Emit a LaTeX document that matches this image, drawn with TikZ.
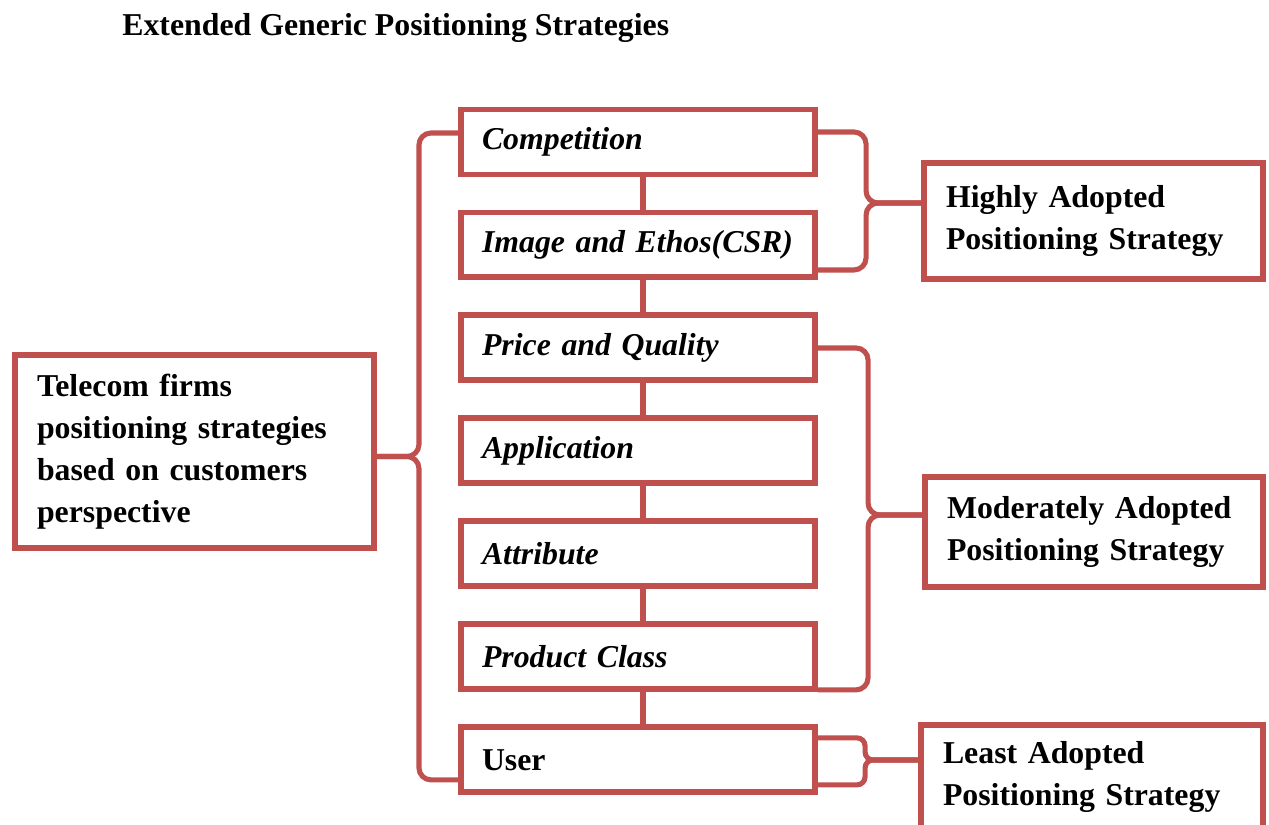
\documentclass[tikz,border=0pt]{standalone}
\usepackage{fontspec}
\setmainfont{Liberation Serif}
\usepackage{tikz}
\usetikzlibrary{calc}
\definecolor{accent}{HTML}{C0504D}
\newcommand{\boxfont}{\fontsize{18.1}{24}\selectfont\bfseries}
\tikzstyle{item} = [rectangle, minimum width=7.08cm, minimum height=1.3cm, text width=6.24cm, inner xsep=0.42cm, align=left, draw=accent, fill=white, line width=3.4pt, font=\boxfont\itshape]
\tikzstyle{sidebox} = [rectangle, inner xsep=0.44cm, align=left, draw=accent, fill=white, line width=3.4pt, font=\boxfont]
\tikzstyle{link} = [accent, line width=2.9pt]
\tikzstyle{brace} = [accent, line width=2.9pt, rounded corners=0.24cm]

\begin{document}
\begin{tikzpicture}[x=0.02cm, y=-0.02cm, node distance=2.06cm]
    \useasboundingbox (0,0) rectangle (1269,825);
    \clip (0,0) rectangle (1269,825);

    \node (title) [anchor=west, inner sep=0pt, font=\boxfont] at (122,28) {Extended Generic Positioning Strategies};

    \node (comp) [item] at (638,142) {Competition};
    \node (img) [item, below of=comp] {Image and Ethos(CSR)};
    \node (price) [item, below of=img] {Price and Quality};
    \node (appl) [item, below of=price] {Application};
    \node (attr) [item, below of=appl] {Attribute};
    \node (prod) [item, below of=attr] {Product Class};
    \node (user) [item, below of=prod, font=\boxfont] {User};

    \node (telecom) [sidebox, minimum width=7.18cm, minimum height=3.86cm, text width=6.3cm] at (194.5,451.5) {Telecom firms\\ positioning strategies\\ based on customers\\ perspective};
    \node (high) [sidebox, minimum width=6.78cm, minimum height=2.32cm, text width=5.9cm] at (1093.5,221) {Highly Adopted\\ Positioning Strategy};
    \node (moder) [sidebox, minimum width=6.76cm, minimum height=2.2cm, text width=5.88cm] at (1094,532) {Moderately Adopted\\ Positioning Strategy};
    \node (least) [sidebox, minimum width=6.84cm, minimum height=2.08cm, text width=5.96cm] at (1092,777) {Least Adopted\\ Positioning Strategy};

    \draw [link] ([xshift=0.1cm]comp.south) -- ([xshift=0.1cm]img.north);
    \draw [link] ([xshift=0.1cm]img.south) -- ([xshift=0.1cm]price.north);
    \draw [link] ([xshift=0.1cm]price.south) -- ([xshift=0.1cm]appl.north);
    \draw [link] ([xshift=0.1cm]appl.south) -- ([xshift=0.1cm]attr.north);
    \draw [link] ([xshift=0.1cm]attr.south) -- ([xshift=0.1cm]prod.north);
    \draw [link] ([xshift=0.1cm]prod.south) -- ([xshift=0.1cm]user.north);

    \coordinate (lefttip) at ($(telecom.east)+(0,5)$);
    \coordinate (leftmid) at ($(lefttip)+(42,0)$);
    \draw [brace] ($(comp.west)+(0,-9)$) -| (leftmid) -- (lefttip);
    \draw [brace] (lefttip) -- (leftmid) |- ($(user.west)+(0,20)$);

    \coordinate (hightip) at ($(high.west)+(0,-18)$);
    \coordinate (highmid) at ($(hightip)+(-55,0)$);
    \draw [brace] ($(comp.east)+(0,-10)$) -| (highmid) -- (hightip);
    \draw [brace] (hightip) -- (highmid) |- ($(img.east)+(0,25)$);

    \coordinate (modertip) at ($(moder.west)+(0,-17)$);
    \coordinate (modermid) at ($(modertip)+(-54,0)$);
    \draw [brace] (price.east) -| (modermid) -- (modertip);
    \draw [brace] (modertip) -- (modermid) |- ($(prod.east)+(0,33)$);

    \coordinate (leasttip) at ($(least.west)+(0,-17)$);
    \coordinate (leastmid) at ($(leasttip)+(-53,0)$);
    \draw [brace, rounded corners=0.16cm] ($(user.east)+(0,-22)$) -| (leastmid) -- (leasttip);
    \draw [brace, rounded corners=0.16cm] (leasttip) -- (leastmid) |- ($(user.east)+(0,25)$);
\end{tikzpicture}
\end{document}
